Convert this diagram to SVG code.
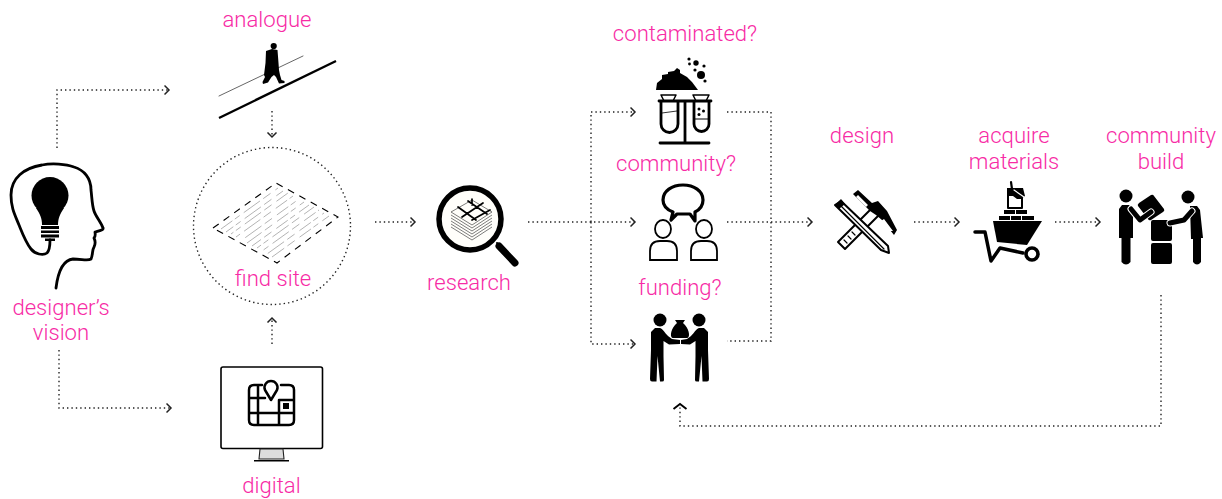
<svg xmlns="http://www.w3.org/2000/svg" width="1222" height="499" viewBox="0 0 1222 499">
<style>
.t{font-family:Roboto,"Liberation Sans",sans-serif;font-weight:300;font-size:22.1px;fill:#f72ba5;text-anchor:middle}
.c{fill:none;stroke:#222;stroke-width:1.4;stroke-dasharray:1.4 3}
.k{fill:#000;stroke:none}
.s{fill:none;stroke:#000;stroke-linecap:round;stroke-linejoin:round}
</style>
<defs>
<marker id="a" markerUnits="userSpaceOnUse" markerWidth="10" markerHeight="12" refX="5" refY="6" orient="auto"><path d="M0.500,1.500 L5,6 L0.500,10.500" fill="none" stroke="#222" stroke-width="1.500"/></marker>
<marker id="b" markerUnits="userSpaceOnUse" markerWidth="12" markerHeight="18" refX="6" refY="9" orient="auto"><path d="M1,2.500 L6,9 L1,15.500" fill="none" stroke="#000" stroke-width="1.900"/></marker>
</defs>
<g id="connectors">
<path class="c" d="M57,148V90H169" marker-end="url(#a)"/>
<path class="c" d="M59,350V408H171" marker-end="url(#a)"/>
<path class="c" d="M272,111V137" marker-end="url(#a)"/>
<path class="c" d="M272,344V318" marker-end="url(#a)"/>
<circle class="c" cx="272" cy="226" r="78.500"/>
<path class="c" d="M375,222H415" marker-end="url(#a)"/>
<path class="c" d="M528,222H635" marker-end="url(#a)"/>
<path class="c" d="M591,222V112H635" marker-end="url(#a)"/>
<path class="c" d="M591,222V344H635" marker-end="url(#a)"/>
<path class="c" d="M727,112H771V341H727"/>
<path class="c" d="M727,222H812" marker-end="url(#a)"/>
<path class="c" d="M914,222H959" marker-end="url(#a)"/>
<path class="c" d="M1055,222H1100" marker-end="url(#a)"/>
<path class="c" d="M1161,295V426H680V404" marker-end="url(#b)"/>
</g>
<g id="vision">
<path class="s" stroke-width="2.800" d="M56,288C58,272 63,260 73,259C82,259 88,261 91,259C93,255 92,250 94,247C96,243 95,240 94,238C96,236 95,233 95,232C98,231 104,230 103,228C101,222 96,217 94,211C92,205 92,198 91,190C91,178 84,170 74,167C66,164 52,163 42,165C24,168 11,178 11,195C11,208 15,215 19,225C23,235 26,243 31,249C35,254 43,256 47,253C50,250 50,245 50,240"/>
<circle class="k" cx="50" cy="195.500" r="18.500"/>
<path class="k" d="M36,208C40,214 42,218 42,225H58C58,218 60,214 64,208Z"/>
<path class="k" d="M41,226H59V229H41ZM41,230.500H59V233H41ZM41,234.500H59V237.500H41ZM45,238.500H55V241H45Z"/>
<text class="t" x="61" y="315">designer’s</text>
<text class="t" x="61" y="340">vision</text>
</g>
<g id="analogue">
<text class="t" x="267" y="27">analogue</text>
<path class="s" stroke-width="0.900" style="stroke:#555" d="M219,96L303,56"/>
<path class="s" stroke-width="2.400" style="stroke-linecap:butt" d="M219,118L336,61"/>
<circle class="k" cx="273.700" cy="46" r="3.100"/>
<path class="k" d="M266,51L272,49L277.500,50L278.500,63L279,70L280,75L281.500,80L284.500,81L284.500,83L279,83.500L276,77L274,75L271.500,77L268,82.500L263,84L262.500,82L265,77L264,75L265.500,63Z"/>
</g>
<g id="site">
<path fill="none" stroke="#000" stroke-width="1.100" stroke-dasharray="7 6" d="M213,228L276,183L338,217L277,263Z"/>
<g fill="none" stroke="#aaa" stroke-width="0.900" stroke-dasharray="14 3 6 5 20 4 9 6">
<path d="M221,229L278,188"/><path stroke-dashoffset="5" d="M226,232L283,191"/><path stroke-dashoffset="11" d="M231,234L288,193"/><path stroke-dashoffset="18" d="M236,237L293,196"/><path stroke-dashoffset="24" d="M242,240L299,199"/><path stroke-dashoffset="30" d="M247,243L304,202"/><path stroke-dashoffset="37" d="M252,246L309,205"/><path stroke-dashoffset="9" d="M257,248L314,207"/><path stroke-dashoffset="15" d="M262,251L319,210"/><path stroke-dashoffset="27" d="M267,254L324,213"/><path stroke-dashoffset="33" d="M272,257L329,216"/>
</g>
<text class="t" x="273" y="286">find site</text>
</g>
<g id="digital">
<rect x="221" y="367" width="101.500" height="81.500" rx="2" fill="#fff" stroke="#000" stroke-width="1.600"/>
<path fill="#ddd" stroke="#222" stroke-width="1.100" d="M260,449H283L284,459H259Z"/>
<path class="k" d="M254,460H289L289,461.500H254Z"/>
<path class="s" stroke-width="2.500" d="M262,385H254Q249,385 249,390V420Q249,425 254,425H289Q294,425 294,420V390Q294,385 289,385H281M258,385V425M249,398H265M249,413H294M279,400V425M279,400H294"/>
<rect class="k" x="283" y="403" width="6" height="6"/>
<path class="s" stroke-width="2.500" style="fill:#fff" d="M271,400L265,390A6.500,6.500 0 1 1 277,390Z"/>
<text class="t" x="271.500" y="493">digital</text>
</g>
<g id="research">
<circle cx="470" cy="219" r="31" fill="#fffefa" stroke="#000" stroke-width="5.500"/>
<path class="s" stroke-width="2" d="M497,243L503,249"/>
<path class="s" stroke-width="7" d="M499,246L515,263"/>
<path fill="none" stroke="#444" stroke-width="0.700" d="M451,212L472,200L492,212L472,225ZM451,215L472,228L492,215M451,218L472,231L492,218M451,221L472,234L492,221M451,224L472,237L492,224M451,227L472,240L492,227"/>
<path class="s" stroke-width="1.700" d="M458,207L476,220M468,201L487,214M462,217L483,203M472,220L490,210M472,199V205"/>
<text class="t" x="469" y="290">research</text>
</g>
<g id="contaminated">
<text class="t" x="685" y="41">contaminated?</text>
<path class="k" d="M656,90L657,83L662,79V75L668,74V72L674,71L677,68L680,70V73L687,77L692,82L698,90Z"/>
<circle class="k" cx="696" cy="63" r="2.700"/><circle class="k" cx="701" cy="75" r="4"/><circle class="k" cx="689" cy="59" r="1.600"/><circle class="k" cx="689.500" cy="64" r="1.400"/><circle class="k" cx="704" cy="66" r="1.600"/><circle class="k" cx="695" cy="70" r="1.600"/><circle class="k" cx="705" cy="81" r="1.600"/>
<path class="s" stroke-width="2.800" d="M659,101H711M685,101V143M660,143H709M661,101V124A8.500,8.500 0 0 0 678,124V101M694,101V124A7.500,7.500 0 0 0 709,124V101"/>
<path class="s" stroke-width="1.500" d="M661,95H676L673,101H664ZM693,95H709L706,101H696Z"/>
<path class="s" stroke-width="0.800" d="M662,113L677,111"/>
<path class="s" stroke-width="1.200" d="M695,119H708"/>
<circle class="k" cx="699" cy="109" r="1.500"/><circle class="k" cx="703.500" cy="111" r="1.500"/><circle class="k" cx="699" cy="114.500" r="1.500"/>
</g>
<g id="community">
<text class="t" x="676" y="171">community?</text>
<path d="M671,220L673,212C665,209 663,204 663,200C663,191 672,185 683,185C694,185 703,191 703,200C703,204 701,209 695,212L695,221L690,214H677Z" fill="#fff" stroke="#000" stroke-width="3.200" stroke-linejoin="round"/>
<ellipse cx="663" cy="229" rx="8" ry="9" fill="#fff" stroke="#000" stroke-width="1.800"/>
<ellipse cx="704" cy="229" rx="8" ry="9" fill="#fff" stroke="#000" stroke-width="1.800"/>
<path d="M650,260V251Q650,241 660,241H667Q677,241 677,251V260Z" fill="#fff" stroke="#000" stroke-width="1.800"/>
<path d="M691,260V251Q691,241 701,241H707Q717,241 717,251V260Z" fill="#fff" stroke="#000" stroke-width="1.800"/>
</g>
<g id="funding">
<text class="t" x="680" y="295">funding?</text>
<circle class="k" cx="660" cy="320" r="6.500"/><circle class="k" cx="699" cy="320" r="6.500"/>
<path class="k" d="M655,328H660C663,329 665,333 668,336L672,339L680,340V344L669,344.500L663.500,341V356L664,380Q664,382 661,381.500H660L657.500,356L656.500,381.500H652Q650,381.500 650,379L651,350V332Z"/>
<path class="k" d="M704,328H699C696,329 694,333 691,336L687,339L681,340V344L690,344.500L695.500,341V356L695,380Q695,382 698,381.500H699L701.500,356L702.500,381.500H707Q709,381.500 709,379L708,350V332Z"/>
<path class="k" d="M675,320H685L683,323L685,325C690,331 690,338 687,338H673C670,338 670,331 675,325L677,323Z"/>
</g>
<g id="design">
<text class="t" x="862" y="143">design</text>
<path d="M838,242L845,249L882,212L875,205Z" fill="#fff" stroke="#000" stroke-width="2" stroke-linejoin="round"/>
<path class="s" stroke-width="1.200" d="M844,240L847,243M848,236L851,239M852,232L855,235"/>
<path d="M841,201L888,246L889,253L881,250L835,205Z" fill="#fff" stroke="#000" stroke-width="2" stroke-linejoin="round"/>
<path class="s" stroke-width="1.200" d="M840,205L884,249"/>
<path class="k" d="M835,205L841,199L845,204L839,209Z"/>
<path class="k" d="M853,194L858,190L872,203L878,201L887,211L897,230L894,235L882,220L876,215L870,211Z"/>
<path fill="#fff" d="M858,195L868,205L866,207L856,197ZM884,219L893,231L890,231L881,221Z"/>
</g>
<g id="materials">
<text class="t" x="1014" y="143">acquire</text>
<text class="t" x="1014" y="169">materials</text>
<path class="k" d="M993,221H1042L1027,245L997,242Z"/>
<path class="k" d="M999,216H1010V220H999ZM1011,216H1021V220H1011ZM1022,216H1034V220H1022ZM1004,210H1015V214H1004ZM1016,210H1027V214H1016Z"/>
<path class="k" d="M1007,188H1023L1025,196L1021,199H1017L1013,196H1007Z"/>
<path class="s" stroke-width="2" d="M1008,196V208H1022V198"/>
<path class="s" stroke-width="2.200" d="M1011,182L1012,189"/>
<path style="stroke:#fff" class="s" stroke-width="1.200" d="M1014,190L1024,197"/>
<path class="s" stroke-width="3.500" d="M975,232H985L991,261L1000,248L1023,253"/>
<circle cx="1032" cy="254" r="6" fill="#fff" stroke="#000" stroke-width="3.600"/>
</g>
<g id="build">
<text class="t" x="1161" y="143">community</text>
<text class="t" x="1161" y="169">build</text>
<circle class="k" cx="1126" cy="196" r="6.500"/><circle class="k" cx="1188" cy="197" r="6.500"/>
<path class="k" d="M1138,206Q1137,205 1139,203L1151,195Q1153,194 1154,196L1164,209Q1165,211 1163,212L1151,220Q1149,221 1148,219Z"/>
<path class="k" d="M1151,222Q1151,220 1153,220H1170Q1172,220 1172,222V239Q1172,241 1170,241H1153Q1151,241 1151,239ZM1151,245Q1151,243 1153,243H1170Q1172,243 1172,245V262Q1172,264 1170,264H1153Q1151,264 1151,262Z"/>
<path class="k" d="M1122,205H1129L1133,210V238H1130.500V262Q1126,267 1121.500,262V238H1119V209Z"/>
<path class="s" stroke-width="7" style="stroke:#fff" d="M1131,209L1140,220L1151,212"/>
<path class="s" stroke-width="5" d="M1131,209L1140,220L1151,212"/>
<path class="k" d="M1190,206H1197L1200,210L1203,238H1201V262Q1197,267 1193,262V239H1191Z"/>
<path class="s" stroke-width="7" style="stroke:#fff" d="M1192,211L1184,220L1170,223"/>
<path class="s" stroke-width="5" d="M1192,211L1184,220L1170,223"/>
</g>
</svg>
